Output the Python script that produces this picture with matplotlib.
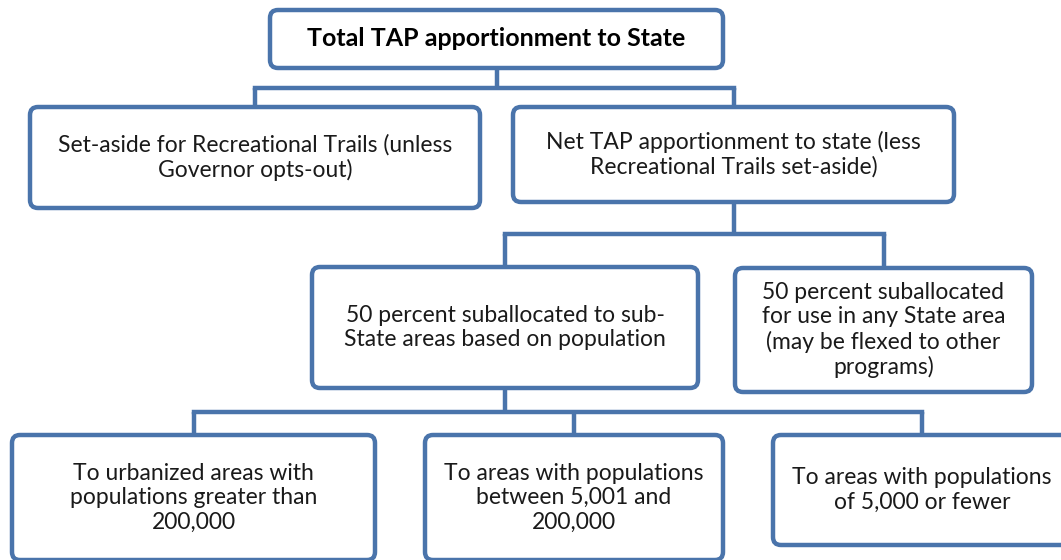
import matplotlib
matplotlib.use("Agg")
import matplotlib.pyplot as plt
from matplotlib.patches import FancyBboxPatch

# ---- content ----
box_ids = ["total", "rec", "net", "sub50", "any50", "urban", "mid", "small"]
box_texts = [
    "Total TAP apportionment to State",
    "Set-aside for Recreational Trails (unless\nGovernor opts-out)",
    "Net TAP apportionment to state (less\nRecreational Trails set-aside)",
    "50 percent suballocated to sub-\nState areas based on population",
    "50 percent suballocated\nfor use in any State area\n(may be flexed to other\nprograms)",
    "To urbanized areas with\npopulations greater than\n200,000",
    "To areas with populations\nbetween 5,001 and\n200,000",
    "To areas with populations\nof 5,000 or fewer",
]
parent_of = [None, "total", "total", "net", "net", "sub50", "sub50", "sub50"]
bold_boxes = ["total"]

# ---- layout (pixel coords: left, top, right, bottom) ----
layout = {
    "total": (270, 10, 723, 68),
    "rec":   (30, 107, 480, 208),
    "net":   (513, 107, 954, 202),
    "sub50": (312, 267, 698, 388),
    "any50": (735, 268, 1032, 392),
    "urban": (12, 435, 375, 560),
    "mid":   (425, 435, 723, 560),
    "small": (773, 435, 1071, 545),
}
bus_y = {"total": 88, "net": 234, "sub50": 412}

W, H = 1061, 560
EDGE = "#4A74AB"
LW = 3.2

fig = plt.figure(figsize=(W / 100, H / 100), dpi=100)
ax = fig.add_axes([0, 0, 1, 1])
ax.set_xlim(0, W)
ax.set_ylim(H, 0)
ax.axis("off")

def center(b):
    l, t, r, bt = layout[b]
    return (l + r) / 2, (t + bt) / 2

# connectors
for parent in bus_y:
    kids = [k for k, p in zip(box_ids, parent_of) if p == parent]
    px, _ = center(parent)
    pb = layout[parent][3]
    y = bus_y[parent]
    ax.plot([px, px], [pb, y], color=EDGE, lw=LW, solid_capstyle="butt", zorder=1)
    xs = [center(k)[0] for k in kids] + [px]
    ax.plot([min(xs), max(xs)], [y, y], color=EDGE, lw=LW, solid_capstyle="projecting", zorder=1)
    for k in kids:
        kx, _ = center(k)
        ax.plot([kx, kx], [y, layout[k][1]], color=EDGE, lw=LW, solid_capstyle="butt", zorder=1)

# boxes
for bid, txt in zip(box_ids, box_texts):
    l, t, r, b = layout[bid]
    pad = 8
    patch = FancyBboxPatch((l + pad, t + pad), (r - l) - 2 * pad, (b - t) - 2 * pad,
                           boxstyle=f"round,pad={pad},rounding_size={pad}",
                           facecolor="white", edgecolor=EDGE, lw=LW, zorder=2,
                           mutation_aspect=1)
    ax.add_patch(patch)
    cx, cy = center(bid)
    if bid in bold_boxes:
        ax.text(cx, cy, txt, ha="center", va="center", fontsize=18, fontweight="bold",
                family="Lato", color="#000000", zorder=3)
    else:
        ax.text(cx, cy, txt, ha="center", va="center", fontsize=16.5, family="Lato",
                color="#1a1a1a", linespacing=1.2, zorder=3)

fig.savefig("out.png", dpi=100, facecolor="white")
